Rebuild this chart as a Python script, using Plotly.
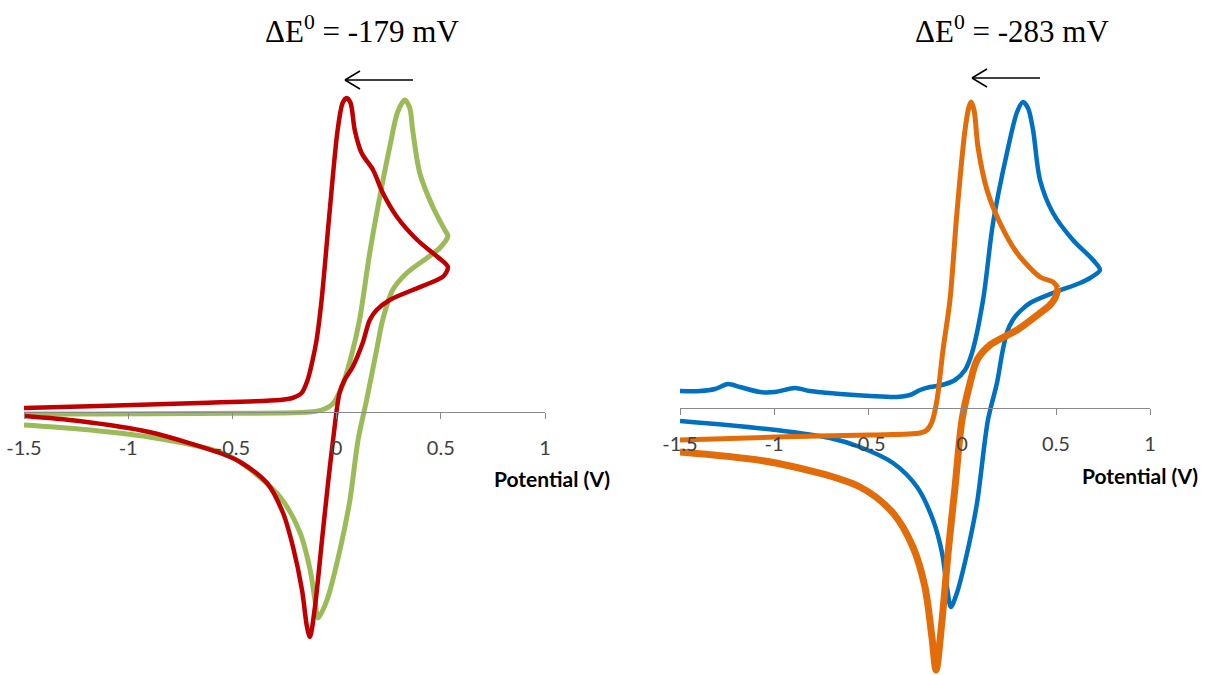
import plotly.graph_objects as go

# ---- Left panel: cyclic voltammograms (potential in V, current in arbitrary units) ----
green_v = [-1.5, -1.14, -0.66, -0.276, -0.13, -0.072, -0.019, 0.029, 0.072, 0.11, 0.159,
           0.207, 0.255, 0.293, 0.327, 0.351, 0.365, 0.399, 0.462, 0.519, 0.534,
           0.495, 0.447, 0.337, 0.269, 0.221, 0.192, 0.144, 0.103, 0.064, 0.016, -0.046,
           -0.089, -0.104, -0.127, -0.175, -0.271, -0.463, -0.56, -0.9, -1.236, -1.5]
green_i = [-0.2, -0.2, -0.15, -0.1, 0.0, 0.2, 0.8, 2.7, 5.7, 9.2, 15.9,
           21.5, 26.5, 30.0, 31.2, 30.4, 28.2, 23.9, 20.5, 18.2, 17.6,
           16.4, 15.6, 13.9, 12.2, 9.2, 6.2, 1.2, -2.8, -8.8, -13.8, -18.8,
           -20.6, -18.8, -15.8, -12.1, -8.5, -5.0, -4.0, -2.5, -1.7, -1.3]

red_v = [-1.5, -1.139, -0.659, -0.274, -0.212, -0.168, -0.139, -0.115, -0.096, -0.072,
         -0.034, 0.005, 0.029, 0.048, 0.067, 0.087, 0.12, 0.175, 0.222, 0.29, 0.387,
         0.485, 0.534,
         0.514, 0.481, 0.365, 0.255, 0.192, 0.159, 0.125, 0.077, 0.038, 0.014, -0.017,
         -0.041, -0.07, -0.104, -0.128, -0.142, -0.166, -0.209, -0.257, -0.334, -0.463,
         -0.56, -0.9, -1.236, -1.5]
red_i = [0.4, 0.6, 0.9, 1.2, 1.4, 1.9, 3.2, 5.2, 7.2, 11.2,
         19.9, 28.2, 30.9, 31.4, 30.9, 28.2, 25.9, 24.2, 21.9, 19.5, 17.2,
         15.5, 14.5,
         13.6, 13.2, 12.2, 11.2, 10.2, 9.2, 6.9, 4.5, 3.2, 1.9, -2.8,
         -7.1, -12.8, -19.5, -22.5, -21.5, -17.8, -13.5, -10.1, -7.1, -5.0,
         -4.1, -2.0, -0.9, -0.4]

# ---- Right panel ----
blue_v = [-1.5, -1.394, -1.314, -1.245, -1.181, -1.074, -0.995, -0.888, -0.809, -0.649,
          -0.489, -0.346, -0.277, -0.223, -0.17, -0.106, -0.037, 0.016, 0.053, 0.112,
          0.165, 0.239, 0.293, 0.324, 0.351, 0.378, 0.415, 0.484, 0.59, 0.697, 0.734,
          0.681, 0.628, 0.484, 0.362, 0.31, 0.27, 0.24, 0.215, 0.186, 0.138, 0.08, 0.027,
          -0.027, -0.059, -0.08, -0.106, -0.154, -0.239, -0.367, -0.543, -0.702, -0.989, -1.5]
blue_i = [1.7, 1.7, 1.9, 2.4, 2.1, 1.6, 1.6, 2.0, 1.7, 1.4,
          1.2, 1.1, 1.3, 1.8, 2.1, 2.3, 2.8, 3.8, 5.5, 10.8,
          18.5, 25.5, 29.6, 30.6, 30.0, 27.8, 22.8, 19.5, 16.8, 14.8, 13.8,
          13.0, 12.5, 11.5, 10.5, 9.7, 8.8, 7.6, 5.6, 2.5, -1.2, -9.5, -14.5,
          -18.5, -19.9, -17.9, -14.5, -11.2, -7.9, -5.5, -3.9, -3.0, -2.2, -1.3]

orange_fwd_v = [-1.5, -0.989, -0.489, -0.223, -0.186, -0.16, -0.133, -0.101, -0.064, -0.027,
                0.016, 0.037, 0.048, 0.064, 0.085, 0.133, 0.202, 0.293, 0.415, 0.484, 0.511]
orange_fwd_i = [-3.2, -2.9, -2.7, -2.5, -2.2, -1.4, 0.8, 5.8, 10.8, 19.5,
                27.8, 30.1, 30.6, 29.8, 26.1, 21.8, 18.5, 15.5, 13.1, 12.6, 12.0]
orange_rev_v = [0.511, 0.495, 0.468, 0.415, 0.293, 0.149, 0.08, 0.043, 0.0, -0.037,
                -0.074, -0.106, -0.138, -0.16, -0.197, -0.261, -0.367, -0.543,
                -0.989, -1.5]
orange_rev_i = [12.0, 11.0, 10.3, 9.5, 7.8, 6.3, 4.8, 2.5, -1.2, -7.9,
                -14.5, -21.2, -26.2, -22.9, -17.9, -13.9, -10.5, -7.9,
                -5.5, -4.4]

tick_vals = [-1.5, -1, -0.5, 0, 0.5, 1]
tick_text = ["-1.5", "-1", "-0.5", "0", "0.5", "1"]
titles = ["\u0394E<sup>0</sup> = -179 mV", "\u0394E<sup>0</sup> = -283 mV"]
axis_title = "Potential (V)"

GREEN = "#9BBB59"
RED = "#C00000"
BLUE = "#0070C0"
ORANGE = "#E36C0A"

fig = go.Figure()

def add_line(v, i, color, width, xa, ya):
    fig.add_trace(go.Scatter(
        x=v, y=i, mode="lines", xaxis=xa, yaxis=ya, hoverinfo="skip",
        line=dict(color=color, width=width, shape="spline", smoothing=0.85),
        showlegend=False))

add_line(green_v, green_i, GREEN, 5, "x", "y")
add_line(red_v, red_i, RED, 4.5, "x", "y")
add_line(blue_v, blue_i, BLUE, 4.5, "x2", "y2")
add_line(orange_fwd_v, orange_fwd_i, ORANGE, 5, "x2", "y2")
add_line(orange_rev_v, orange_rev_i, ORANGE, 7, "x2", "y2")

W, H = 1212, 675

def xaxis_cfg(x0, x1, y_px):
    return dict(
        domain=[x0 / W, x1 / W], range=[-1.5, 1], anchor="free",
        position=(H - y_px) / H, automargin=False,
        showline=True, linecolor="#898989", linewidth=1,
        ticks="outside", ticklen=6, tickcolor="#898989", tickwidth=1,
        tickvals=tick_vals, ticktext=tick_text, ticklabelstandoff=12,
        tickfont=dict(family="Lato", size=20, color="#404040"),
        showgrid=False, zeroline=False, fixedrange=True)

def yaxis_cfg(xa, y_px):
    return dict(domain=[0, 1], anchor=xa, range=[-(H - y_px) / 10, y_px / 10],
                visible=False, showgrid=False, zeroline=False, automargin=False)

fig.update_layout(
    width=W, height=H, margin=dict(l=0, r=0, t=0, b=0, autoexpand=False),
    paper_bgcolor="white", plot_bgcolor="white",
    xaxis=xaxis_cfg(24, 545, 412),
    yaxis=yaxis_cfg("x", 412),
    xaxis2=xaxis_cfg(680, 1150, 408),
    yaxis2=yaxis_cfg("x2", 408),
)

# panel headings and axis titles
for tx, cx, ax_x, ax_y in [(titles[0], 362, 552, 478), (titles[1], 1012, 1140, 475)]:
    fig.add_annotation(text=tx, x=cx / W, y=(H - 30) / H, xref="paper", yref="paper",
                       showarrow=False, xanchor="center", yanchor="middle",
                       font=dict(family="Liberation Serif", size=31, color="black"))
    fig.add_annotation(text="<b>" + axis_title + "</b>", x=ax_x / W, y=(H - ax_y) / H,
                       xref="paper", yref="paper", showarrow=False,
                       xanchor="center", yanchor="middle",
                       font=dict(family="Lato", size=21, color="black"))

# scan-direction arrows (open arrowhead pointing left)
def arrow(x_tip, x_tail, y):
    yp = (H - y) / H
    line = dict(color="black", width=1.5)
    fig.add_shape(type="line", xref="paper", yref="paper",
                  x0=x_tail / W, x1=x_tip / W, y0=yp, y1=yp, line=line)
    for dy in (-9, 9):
        fig.add_shape(type="line", xref="paper", yref="paper",
                      x0=x_tip / W, y0=yp, x1=(x_tip + 15) / W, y1=(H - y - dy) / H, line=line)

arrow(345, 413, 80)
arrow(972, 1040, 78)

fig.write_html("out.html")
